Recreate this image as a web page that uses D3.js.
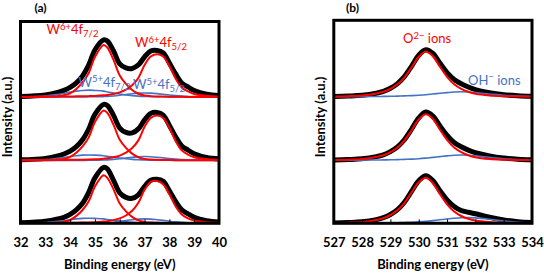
<!DOCTYPE html>
<html>
<head>
<meta charset="utf-8">
<script src="https://cdn.jsdelivr.net/npm/d3@7"></script>
<style>
  body { margin: 0; background: #fff; }
  svg { display: block; font-family: Lato, "Open Sans", sans-serif; }
</style>
</head>
<body>
<svg id="drawing_region"></svg>
<script>
// binding energies (eV) the spectra were read at
const energyA = [32, 33, 33.5, 33.75, 34, 34.25, 34.5, 34.75, 35, 35.35, 35.5, 35.75, 36, 36.25,
                 36.5, 36.75, 37, 37.25, 37.5, 37.75, 38, 38.25, 38.5, 38.75, 39, 39.5, 40];
const energyB = [527, 527.5, 528, 528.5, 528.75, 529, 529.25, 529.5, 529.75, 530, 530.25,
                 530.5, 530.75, 531, 531.25, 531.5, 531.75, 532, 532.5, 533, 533.5, 534];
const ticksA = [32, 33, 34, 35, 36, 37, 38, 39, 40];
const ticksB = [527, 528, 529, 530, 531, 532, 533, 534];
const stackOffsets = [0, 63, 126.5];   // bottom, middle, top spectrum

// (a) W 4f  - top spectrum
const aTopData  = [0.5, 2, 4.5, 6.5, 9.5, 14, 21, 32, 47, 57, 56, 46, 33, 29, 28.5, 32, 40, 46, 46.5, 44, 34, 23, 14, 10, 6.5, 2.8, 1.5];
const aTopW6_72 = [0, 0.3, 0.8, 1.6, 3.6, 8, 14.5, 24, 40, 52, 49.5, 37, 21.5, 13, 7, 3.2, 1.5, 0.8, 0.5, 0.4, 0.3, 0.2, 0.1, 0, 0, 0, 0];
const aTopW6_52 = [0, 0.2, 0.3, 0.4, 0.5, 0.6, 0.7, 0.8, 1, 1.6, 2, 3, 4.6, 7.3, 11.7, 19, 32, 40.5, 42.7, 40.5, 31, 18.5, 9.5, 5.5, 3, 1.2, 0.5];
const aTopW5_72 = [0.2, 1, 2.5, 3.5, 4.8, 5.8, 6.5, 6.8, 6.5, 5.8, 5, 4, 3, 2, 1.3, 0.8, 0.5, 0.3, 0.2, 0.1, 0.1, 0, 0, 0, 0, 0, 0];
const aTopW5_52 = [0, 0, 0, 0, 0, 0, 0, 0.1, 0.2, 0.35, 0.5, 1, 1.7, 2.5, 3.2, 3.8, 4, 3.8, 3.3, 2.6, 1.9, 1.3, 0.8, 0.5, 0.3, 0.1, 0];
// middle spectrum
const aMidData  = [0.5, 2, 4.4, 6.4, 9.3, 13.7, 20.6, 31.4, 46, 56, 55, 45, 32.3, 28, 27.5, 31.5, 40.5, 47, 48, 45.3, 35, 23.7, 14.4, 10.3, 6.7, 2.9, 1.5];
const aMidW6_72 = [0, 0.3, 0.8, 1.5, 3.5, 7.7, 13.9, 23, 38.4, 50, 47.5, 35.5, 20.6, 12.5, 6.7, 3.1, 1.4, 0.8, 0.5, 0.4, 0.3, 0.2, 0.1, 0, 0, 0, 0];
const aMidW6_52 = [0, 0.2, 0.3, 0.4, 0.5, 0.6, 0.7, 0.8, 1, 1.7, 2.1, 3.2, 4.8, 7.7, 12.3, 20, 33.6, 42.5, 44.8, 42.5, 32.6, 19.4, 10, 5.8, 3.2, 1.3, 0.5];
const aMidW5_72 = [0.2, 0.8, 2, 2.8, 3.8, 4.6, 5.2, 5.4, 5.2, 4.6, 4, 3.2, 2.4, 1.6, 1, 0.6, 0.4, 0.2, 0.2, 0.1, 0.1, 0, 0, 0, 0, 0, 0];
const aMidW5_52 = [0, 0, 0, 0, 0, 0, 0, 0.1, 0.2, 0.3, 0.5, 1, 1.6, 2.4, 3, 3.6, 3.8, 3.6, 3.1, 2.5, 1.8, 1.2, 0.8, 0.5, 0.3, 0.1, 0];
// bottom spectrum
const aBotData  = [0.5, 2, 4.3, 6, 9, 13.5, 20, 31, 45.5, 56, 54.5, 43, 30.5, 26, 25, 28.5, 37, 43, 44, 42, 32.5, 22, 13.5, 9.5, 6, 2.6, 1.2];
const aBotW6_72 = [0, 0.3, 0.7, 1.5, 3.3, 7.4, 13.3, 22.1, 36.8, 48, 45.5, 34, 19.8, 12, 6.4, 2.9, 1.4, 0.7, 0.5, 0.4, 0.3, 0.2, 0.1, 0, 0, 0, 0];
const aBotW6_52 = [0, 0.2, 0.3, 0.4, 0.5, 0.6, 0.7, 0.8, 1, 1.7, 2.1, 3.2, 4.9, 7.8, 12.5, 20.5, 33.5, 41.5, 42.3, 39, 29, 17, 8.8, 5, 2.8, 1.1, 0.5];
const aBotW5_72 = [0.2, 0.8, 1.9, 2.6, 3.6, 4.4, 4.9, 5.1, 4.9, 4.4, 3.8, 3, 2.3, 1.5, 1, 0.6, 0.4, 0.2, 0.2, 0.1, 0.1, 0, 0, 0, 0, 0, 0];
const aBotW5_52 = [0, 0, 0, 0, 0, 0, 0, 0.1, 0.2, 0.3, 0.6, 1.1, 1.9, 2.8, 3.5, 4.2, 4.4, 4.2, 3.6, 2.9, 2.1, 1.4, 0.9, 0.6, 0.3, 0.1, 0];

// (b) O 1s
const bTopData = [0.4, 0.8, 1.5, 3.6, 5.4, 8.5, 13.2, 20.4, 30.7, 41.6, 47, 43.3, 33.5, 24.2, 17.3, 13, 9.8, 7.2, 4.1, 2.1, 1, 0.5];
const bTopO2   = [0.3, 0.6, 1.3, 3.3, 5, 8, 12.5, 19.5, 29.5, 40, 45, 40.5, 30, 20, 12.5, 8, 5, 3, 1.3, 0.6, 0.3, 0.2];
const bTopOH   = [0, 0.1, 0.2, 0.3, 0.4, 0.5, 0.7, 0.9, 1.2, 1.6, 2.1, 2.8, 3.5, 4.2, 4.8, 5, 4.8, 4.2, 2.8, 1.5, 0.7, 0.3];
const bMidData = [0.4, 0.8, 1.5, 3.7, 5.5, 8.7, 13.5, 20.8, 31.3, 42.4, 48.2, 44.2, 34.3, 24.8, 17.8, 13.5, 10.2, 7.6, 4.3, 2.2, 1.1, 0.5];
const bMidO2   = [0.3, 0.6, 1.3, 3.4, 5.1, 8.2, 12.8, 19.9, 30.1, 40.8, 46, 41.3, 30.6, 20.4, 12.8, 8.2, 5.1, 3.1, 1.3, 0.6, 0.3, 0.2];
const bMidOH   = [0, 0.1, 0.2, 0.3, 0.4, 0.5, 0.7, 0.9, 1.2, 1.6, 2.2, 2.9, 3.7, 4.4, 5, 5.3, 5.1, 4.5, 3, 1.6, 0.8, 0.3];
const bBotData = [0.4, 0.8, 1.5, 3.7, 5.6, 8.8, 13.6, 21.3, 32.1, 42.5, 47.5, 42.7, 32.5, 23.3, 16.8, 12.8, 11, 9.5, 6, 3.3, 1.6, 0.8];
const bBotO2   = [0.3, 0.6, 1.3, 3.4, 5.2, 8.3, 13, 20.5, 31, 41, 45.5, 40, 29, 19, 11.8, 7.3, 4.5, 2.8, 1.2, 0.6, 0.3, 0.2];
const bBotOH   = [0, 0.1, 0.2, 0.3, 0.4, 0.5, 0.6, 0.8, 1.1, 1.5, 2, 2.7, 3.5, 4.3, 5, 5.5, 5.7, 5.4, 4, 2.3, 1.1, 0.5];

const RED = '#ff0000';
const BLUE = '#4472c4';

class StackedPlot {

    constructor( config, spectra ) {
        this.config = config;
        this.spectra = spectra;
        this.init();
    }

    init() {
        let self = this;
        const c = self.config;

        self.svg = d3.select( c.parent );
        self.chart = self.svg.append('g');

        self.xscale = d3.scaleLinear()
            .domain( c.xdomain )
            .range( [c.left, c.right] );

        self.yscale = d3.scaleLinear()
            .domain( [0, c.ymax] )
            .range( [c.bottom, c.top] );

        self.xaxis = d3.axisBottom( self.xscale )
            .tickValues( c.ticks )
            .tickSizeInner( -4 )
            .tickSizeOuter( 0 )
            .tickPadding( 14 )
            .tickFormat( d3.format('d') );

        self.chart.append('clipPath')
            .attr('id', c.id + '_clip')
            .append('rect')
            .attr('x', c.left)
            .attr('y', c.top)
            .attr('width', c.right - c.left)
            .attr('height', c.bottom - c.top);

        self.plot = self.chart.append('g')
            .attr('clip-path', `url(#${c.id}_clip)`);
    }

    render() {
        let self = this;
        const c = self.config;

        const path = (off) => d3.line()
            .x( (d, i) => self.xscale( c.energy[i] ) )
            .y( d => self.yscale( d + off ) )
            .curve( d3.curveCatmullRom.alpha(0.5) );

        // measured envelope (thick black)
        self.plot.selectAll('path.data')
            .data( self.spectra )
            .join('path')
            .attr('class', 'data')
            .attr('fill', 'none')
            .attr('stroke', '#000')
            .attr('stroke-width', 5)
            .attr('stroke-linejoin', 'round')
            .attr('d', s => path(s.offset)(s.data));

        // fitted components, blue under red
        const comps = [];
        self.spectra.forEach( s => s.comps.forEach( k => comps.push({ offset: s.offset, values: k.values, color: k.color }) ) );
        comps.sort( (a, b) => (a.color === RED) - (b.color === RED) );

        self.plot.selectAll('path.comp')
            .data( comps )
            .join('path')
            .attr('class', 'comp')
            .attr('fill', 'none')
            .attr('stroke', k => k.color)
            .attr('stroke-width', k => k.color === RED ? 2 : 1.6)
            .attr('d', k => path(k.offset)(k.values));

        const axis = self.chart.append('g')
            .attr('transform', `translate(0, ${c.bottom})`)
            .call( self.xaxis );
        axis.select('.domain').remove();
        axis.selectAll('.tick line').attr('stroke', '#000');
        axis.selectAll('.tick text')
            .attr('font-size', 13)
            .attr('font-weight', 'bold')
            .attr('font-family', 'Lato, sans-serif')
            .attr('fill', '#000');

        self.chart.append('rect')
            .attr('x', c.left)
            .attr('y', c.top)
            .attr('width', c.right - c.left)
            .attr('height', c.bottom - c.top)
            .attr('fill', 'none')
            .attr('stroke', '#000')
            .attr('stroke-width', 3);

        self.chart.append('text')
            .attr('x', (c.left + c.right) / 2)
            .attr('y', 269)
            .attr('text-anchor', 'middle')
            .attr('font-size', 13)
            .attr('font-weight', 'bold')
            .text('Binding energy (eV)');

        self.chart.append('text')
            .attr('transform', `translate(${c.left - 9}, 117) rotate(-90)`)
            .attr('text-anchor', 'middle')
            .attr('font-size', 13)
            .attr('font-weight', 'bold')
            .text('Intensity (a.u.)');

        self.chart.append('text')
            .attr('x', c.tagX)
            .attr('y', 12)
            .attr('text-anchor', 'middle')
            .attr('font-size', 12)
            .attr('font-weight', 'bold')
            .text(c.tag);

        // labels: superscript up, back to baseline, subscript down
        c.labels.forEach( lb => {
            const t = self.chart.append('text')
                .attr('x', lb.x)
                .attr('y', lb.y)
                .attr('fill', lb.color)
                .attr('font-size', 13);
            lb.parts.forEach( p => {
                const ts = t.append('tspan').text(p.t);
                if (p.s === 'sup') ts.attr('font-size', 9.5).attr('dy', -4.5);
                if (p.s === 'sub') ts.attr('font-size', 9.5).attr('dy', 3);
                if (p.s === 'back') ts.attr('dy', 4.5);
            });
        });
    }
}

d3.select('#drawing_region')
    .attr('width', 544)
    .attr('height', 275);

const plotA = new StackedPlot({
    parent: '#drawing_region', id: 'pa',
    xdomain: [32, 40], ticks: ticksA, energy: energyA,
    left: 20.5, right: 219, top: 21.5, bottom: 223.3, ymax: 202,
    tag: '(a)', tagX: 40.5,
    labels: [
        { x: 46.5, y: 34, color: RED, parts: [{t: 'W'}, {t: '6+', s: 'sup'}, {t: '4f', s: 'back'}, {t: '7/2', s: 'sub'}] },
        { x: 135, y: 47, color: RED, parts: [{t: 'W'}, {t: '6+', s: 'sup'}, {t: '4f', s: 'back'}, {t: '5/2', s: 'sub'}] },
        { x: 78.5, y: 86.5, color: BLUE, parts: [{t: 'W'}, {t: '5+', s: 'sup'}, {t: '4f', s: 'back'}, {t: '7/2', s: 'sub'}] },
        { x: 133, y: 89, color: BLUE, parts: [{t: 'W'}, {t: '5+', s: 'sup'}, {t: '4f', s: 'back'}, {t: '5/2', s: 'sub'}] }
    ]
}, [
    { offset: stackOffsets[0], data: aBotData, comps: [
        { values: aBotW6_72, color: RED }, { values: aBotW6_52, color: RED },
        { values: aBotW5_72, color: BLUE }, { values: aBotW5_52, color: BLUE } ] },
    { offset: stackOffsets[1], data: aMidData, comps: [
        { values: aMidW6_72, color: RED }, { values: aMidW6_52, color: RED },
        { values: aMidW5_72, color: BLUE }, { values: aMidW5_52, color: BLUE } ] },
    { offset: stackOffsets[2], data: aTopData, comps: [
        { values: aTopW6_72, color: RED }, { values: aTopW6_52, color: RED },
        { values: aTopW5_72, color: BLUE }, { values: aTopW5_52, color: BLUE } ] }
]);
plotA.render();

const plotB = new StackedPlot({
    parent: '#drawing_region', id: 'pb',
    xdomain: [527, 534], ticks: ticksB, energy: energyB,
    left: 333.8, right: 532, top: 20.3, bottom: 223.3, ymax: 203,
    tag: '(b)', tagX: 352.5,
    labels: [
        { x: 403, y: 43, color: RED, parts: [{t: 'O'}, {t: '2\u2212', s: 'sup'}, {t: ' ions', s: 'back'}] },
        { x: 468, y: 84.5, color: BLUE, parts: [{t: 'OH'}, {t: '\u2212', s: 'sup'}, {t: ' ions', s: 'back'}] }
    ]
}, [
    { offset: stackOffsets[0], data: bBotData, comps: [ { values: bBotO2, color: RED }, { values: bBotOH, color: BLUE } ] },
    { offset: stackOffsets[1], data: bMidData, comps: [ { values: bMidO2, color: RED }, { values: bMidOH, color: BLUE } ] },
    { offset: stackOffsets[2], data: bTopData, comps: [ { values: bTopO2, color: RED }, { values: bTopOH, color: BLUE } ] }
]);
plotB.render();
</script>
</body>
</html>
